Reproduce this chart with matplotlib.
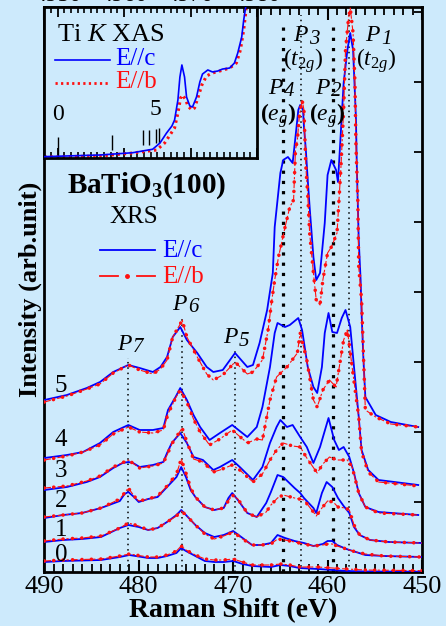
import matplotlib
matplotlib.use('Agg')
import matplotlib.pyplot as plt
from matplotlib.ticker import MultipleLocator

plt.rcParams['font.family'] = ['Liberation Serif', 'DejaVu Serif']
plt.rcParams['mathtext.fontset'] = 'custom'
plt.rcParams['mathtext.rm'] = 'Liberation Serif'
plt.rcParams['mathtext.it'] = 'Liberation Serif:italic'
plt.rcParams['mathtext.bf'] = 'Liberation Serif:bold'

BG = '#cdeafc'
BLUE = '#0000ff'
RED = '#ff1010'

# ---------------- XRS spectra (Raman shift eV, intensity offset) -------------
s0_E = [490, 488, 484, 482, 481, 479, 478, 477, 476, 475.5, 475, 474, 473, 472, 471, 470, 469, 468, 466, 465, 464, 463, 461, 459.5, 458, 456, 450]
s0_c = [0.10, 0.11, 0.12, 0.15, 0.17, 0.14, 0.14, 0.16, 0.19, 0.24, 0.21, 0.16, 0.11, 0.10, 0.10, 0.11, 0.08, 0.06, 0.05, 0.07, 0.06, 0.04, 0.03, 0.02, 0.01, 0.005, 0.003]
s0_b = [0.11, 0.12, 0.13, 0.16, 0.18, 0.15, 0.15, 0.17, 0.21, 0.26, 0.22, 0.17, 0.13, 0.12, 0.12, 0.13, 0.10, 0.07, 0.07, 0.08, 0.07, 0.05, 0.05, 0.04, 0.03, 0.02, 0.013]

s1_E = [490, 488, 486, 484, 482, 481.1, 480, 479, 478, 477, 476, 475.5, 475, 474, 473, 472, 471, 470, 469, 468, 467, 466, 465.3, 464.5, 463.5, 462.5, 461.5, 460.5, 460, 459.5, 459, 458, 457, 456, 454, 450]
s1_c = [0.30, 0.32, 0.33, 0.35, 0.44, 0.47, 0.45, 0.42, 0.44, 0.50, 0.57, 0.62, 0.57, 0.47, 0.39, 0.35, 0.37, 0.41, 0.34, 0.27, 0.27, 0.29, 0.37, 0.34, 0.31, 0.29, 0.26, 0.28, 0.31, 0.31, 0.27, 0.23, 0.20, 0.17, 0.16, 0.15]
s1_b = [0.31, 0.33, 0.34, 0.36, 0.44, 0.49, 0.46, 0.42, 0.44, 0.50, 0.56, 0.61, 0.57, 0.47, 0.38, 0.33, 0.36, 0.40, 0.33, 0.27, 0.27, 0.28, 0.33, 0.32, 0.30, 0.28, 0.26, 0.27, 0.28, 0.28, 0.26, 0.23, 0.20, 0.18, 0.16, 0.15]

s2_Ec = [490, 488, 486, 484, 482, 481.5, 481.1, 480.5, 480, 479, 478, 477, 476, 475.5, 475, 474.5, 474, 473, 472, 471, 470.5, 470.1, 469.5, 468.5, 467.5, 466.5, 466, 465.3, 464.7, 463.5, 462.9, 462.5, 461.5, 461.2, 460.6, 460.1, 459.5, 458.9, 458.3, 457.7, 457.2, 456.6, 455.5, 453.5, 450]
s2_c = [0.54, 0.57, 0.59, 0.64, 0.71, 0.78, 0.80, 0.75, 0.70, 0.73, 0.75, 0.85, 0.95, 1.05, 0.95, 0.82, 0.75, 0.65, 0.62, 0.64, 0.74, 0.79, 0.72, 0.59, 0.55, 0.69, 0.80, 0.97, 0.95, 0.84, 0.79, 0.74, 0.64, 0.59, 0.79, 0.90, 0.85, 0.74, 0.66, 0.59, 0.45, 0.37, 0.32, 0.30, 0.29]
s2_Eb = [490, 488, 486, 484, 482, 481.1, 480.5, 480, 479, 478, 477, 476, 475.5, 475, 474.5, 474, 473, 472, 471, 470.1, 469.5, 468.5, 467.5, 466.5, 466, 465.3, 464.7, 463.5, 462.5, 461.5, 461.2, 460.6, 460, 459.4, 458.9, 458.1, 457.7, 457.2, 456.6, 455.5, 453.5, 450]
s2_b = [0.55, 0.57, 0.59, 0.64, 0.73, 0.84, 0.76, 0.71, 0.73, 0.76, 0.86, 0.98, 1.13, 0.99, 0.84, 0.75, 0.65, 0.62, 0.64, 0.77, 0.73, 0.59, 0.55, 0.60, 0.67, 0.74, 0.77, 0.74, 0.72, 0.60, 0.56, 0.64, 0.71, 0.70, 0.65, 0.64, 0.62, 0.47, 0.37, 0.32, 0.30, 0.29]

s3_Ec = [490, 487.6, 485.5, 484.1, 482.7, 481.7, 481.1, 480.6, 479.9, 478.5, 477.4, 477.0, 476.5, 475.6, 474.9, 474.2, 473.2, 472.1, 471.4, 470.1, 469.3, 467.9, 466.9, 466.1, 465.4, 465.0, 464.3, 463.7, 462.9, 462.2, 461.5, 460.8, 459.9, 459.3, 458.8, 458.3, 457.7, 457.2, 456.7, 456.0, 454.6, 450.4]
s3_c = [0.82, 0.85, 0.90, 0.95, 1.04, 1.09, 1.10, 1.09, 1.05, 1.07, 1.10, 1.19, 1.29, 1.39, 1.29, 1.15, 1.12, 1.02, 1.05, 1.12, 1.05, 0.92, 1.05, 1.29, 1.45, 1.52, 1.45, 1.47, 1.35, 1.25, 1.09, 1.25, 1.54, 1.32, 1.22, 1.25, 1.15, 0.99, 0.79, 0.65, 0.60, 0.57]
s3_Eb = [490, 487.6, 485.5, 484.1, 482.7, 481.1, 479.9, 478.5, 477.4, 477.0, 476.5, 475.4, 474.9, 474.2, 473.2, 472.1, 471.4, 470.1, 469.3, 467.9, 466.9, 466.1, 465.4, 464.7, 463.7, 462.9, 462.2, 461.1, 460.5, 459.8, 459.0, 457.9, 457.4, 456.7, 456.0, 454.6, 450.4]
s3_b = [0.84, 0.86, 0.91, 0.96, 1.05, 1.12, 1.04, 1.06, 1.09, 1.17, 1.28, 1.44, 1.30, 1.13, 1.10, 1.00, 1.02, 1.07, 1.02, 0.90, 0.98, 1.12, 1.22, 1.29, 1.26, 1.25, 1.14, 0.99, 1.08, 1.15, 1.12, 1.12, 1.05, 0.79, 0.65, 0.59, 0.57]

s4_Ec = [490, 487.6, 485.9, 484.1, 482.7, 481.1, 479.9, 478.5, 477.4, 476.9, 476.1, 475.6, 474.9, 474.2, 473.5, 472.5, 471.4, 470.1, 468.5, 467.5, 466.9, 466.1, 465.6, 465.3, 464.5, 464.0, 463.1, 462.7, 462.1, 461.5, 461.1, 460.6, 460.3, 459.9, 459.5, 459.0, 458.5, 458.1, 457.6, 457.2, 456.7, 456.4, 455.7, 454.6, 450.4]
s4_c = [1.14, 1.17, 1.20, 1.29, 1.40, 1.47, 1.42, 1.42, 1.44, 1.62, 1.75, 1.84, 1.72, 1.57, 1.45, 1.32, 1.39, 1.47, 1.35, 1.45, 1.65, 2.05, 2.39, 2.49, 2.45, 2.47, 2.54, 2.42, 2.05, 1.85, 1.79, 2.05, 2.39, 2.59, 2.40, 2.39, 2.54, 2.62, 2.45, 2.05, 1.55, 1.22, 1.02, 0.92, 0.87]
s4_Eb = [490, 487.6, 485.9, 484.1, 482.7, 481.1, 479.9, 478.5, 477.4, 476.9, 476.1, 475.6, 474.9, 474.2, 473.5, 472.5, 471.4, 470.1, 468.5, 467.5, 466.9, 466.1, 465.4, 464.3, 463.2, 462.9, 462.2, 461.5, 461.1, 460.5, 459.8, 459.1, 458.3, 457.9, 457.4, 456.7, 456.4, 455.7, 454.6, 450.4]
s4_b = [1.12, 1.16, 1.20, 1.27, 1.38, 1.45, 1.40, 1.39, 1.42, 1.58, 1.74, 1.82, 1.70, 1.53, 1.40, 1.27, 1.33, 1.42, 1.29, 1.33, 1.32, 1.72, 1.95, 2.05, 2.19, 2.39, 2.12, 1.72, 1.65, 1.82, 1.92, 1.85, 2.32, 2.42, 2.05, 1.55, 1.20, 1.00, 0.90, 0.86]

s5_Ec = [490.0, 487.6, 485.5, 484.1, 482.7, 481.1, 479.9, 478.5, 477.7, 477.0, 476.4, 475.6, 474.9, 473.8, 472.8, 472.1, 471.1, 469.8, 468.5, 467.9, 467.2, 466.4, 465.8, 465.6, 465.0, 464.7, 464.2, 463.7, 463.4, 463.1, 462.9, 462.6, 462.5, 462.3, 462.1, 461.9, 461.5, 461.2, 460.8, 460.3, 460.0, 459.6, 459.1, 458.9, 458.6, 458.3, 457.9, 457.6, 457.3, 457.0, 456.9, 456.7, 456.5, 456.4, 456.2, 456.0, 454.9, 453.3, 450.4]
s5_c = [1.72, 1.77, 1.84, 1.90, 2.00, 2.07, 2.04, 2.00, 2.05, 2.15, 2.35, 2.45, 2.32, 2.19, 2.05, 2.00, 2.02, 2.19, 2.05, 2.07, 2.29, 2.62, 2.99, 3.45, 3.99, 4.12, 4.15, 4.09, 4.35, 4.62, 4.67, 4.62, 4.45, 4.22, 3.92, 3.65, 3.15, 2.92, 2.99, 3.49, 3.97, 4.12, 4.02, 3.90, 4.39, 4.89, 5.22, 5.39, 5.22, 4.55, 4.05, 3.32, 2.92, 2.59, 2.12, 1.75, 1.57, 1.50, 1.45]
s5_Eb = [490.0, 487.6, 485.5, 484.1, 482.7, 481.1, 479.9, 478.5, 477.7, 477.0, 476.4, 475.6, 475.4, 474.9, 473.8, 472.8, 472.1, 471.1, 469.8, 468.5, 467.9, 466.9, 466.3, 465.9, 465.6, 465.2, 464.8, 464.5, 464.0, 463.6, 463.4, 463.2, 463.0, 462.7, 462.5, 462.3, 462.1, 461.9, 461.5, 461.2, 460.8, 460.5, 460.0, 459.6, 459.3, 459.0, 458.6, 458.3, 458.1, 457.8, 457.6, 457.3, 457.1, 457.0, 456.8, 456.7, 456.4, 456.0, 454.9, 453.3, 450.4]
s5_b = [1.70, 1.76, 1.83, 1.88, 1.99, 2.07, 2.02, 1.98, 2.03, 2.12, 2.35, 2.48, 2.52, 2.35, 2.15, 1.98, 1.92, 1.97, 2.10, 1.98, 2.00, 2.12, 2.42, 2.72, 2.92, 3.15, 3.32, 3.45, 3.65, 3.72, 4.22, 4.32, 4.55, 4.72, 4.62, 4.05, 3.77, 3.39, 2.99, 2.72, 2.67, 2.92, 3.19, 3.25, 3.32, 3.39, 4.02, 4.62, 5.22, 5.52, 5.64, 5.39, 4.89, 4.29, 3.72, 3.05, 2.72, 1.62, 1.55, 1.48, 1.45]

spectra_c = [(s0_E, s0_c), (s1_E, s1_c), (s2_Ec, s2_c), (s3_Ec, s3_c), (s4_Ec, s4_c), (s5_Ec, s5_c)]
spectra_b = [(s0_E, s0_b), (s1_E, s1_b), (s2_Eb, s2_b), (s3_Eb, s3_b), (s4_Eb, s4_b), (s5_Eb, s5_b)]
spectrum_names = ['0', '1', '2', '3', '4', '5']

# peak positions (eV)
peak_E = [457.7, 459.4, 462.8, 464.7, 469.8, 475.4, 481.1]
peak_names = ['1', '2', '3', '4', '5', '6', '7']

# ---------------- Ti K-edge XAS (inset) ----------------
xas_Ec = [4948.0, 4956.4, 4961.3, 4964.3, 4965.4, 4966.4, 4967.2, 4967.6, 4968.1, 4968.4, 4968.7, 4969.1, 4969.4, 4969.9, 4970.3, 4970.9, 4971.4, 4971.8, 4972.6, 4973.3, 4974.1, 4974.8, 4975.9, 4976.6, 4977.1, 4977.7, 4978.0, 4978.3, 4978.4]
xas_c = [0.009, 0.020, 0.035, 0.058, 0.099, 0.166, 0.212, 0.252, 0.384, 0.536, 0.616, 0.536, 0.404, 0.344, 0.338, 0.404, 0.503, 0.556, 0.583, 0.570, 0.576, 0.589, 0.596, 0.629, 0.695, 0.801, 0.914, 1.0, 1.05]
xas_Eb = [4948.0, 4956.4, 4961.3, 4964.9, 4966.1, 4966.9, 4967.6, 4968.1, 4968.5, 4968.8, 4969.3, 4969.6, 4970.2, 4970.6, 4971.1, 4971.7, 4972.4, 4973.3, 4974.4, 4975.9, 4976.9, 4977.5, 4978.0, 4978.4, 4978.6]
xas_b = [0.007, 0.013, 0.033, 0.053, 0.099, 0.152, 0.199, 0.298, 0.397, 0.417, 0.384, 0.344, 0.318, 0.331, 0.397, 0.483, 0.543, 0.563, 0.576, 0.596, 0.629, 0.715, 0.848, 1.0, 1.05]
incident_E = [4950.0, 4958.2, 4962.8, 4963.8, 4964.8, 4965.2]
incident_lo = [0.007, 0.053, 0.086, 0.086, 0.10, 0.10]
incident_hi = [0.139, 0.152, 0.185, 0.185, 0.19, 0.20]

W, H = 446, 626
fig = plt.figure(figsize=(W / 100, H / 100), dpi=100)
fig.patch.set_facecolor(BG)


def ftext(x, y, s, **kw):
    return fig.text(x / W, 1 - y / H, s, **kw)


def plabel(x, y, digit):
    # italic P with a large, slightly lowered index
    ftext(x, y, 'P', fontsize=17, style='italic', ha='left', va='baseline')
    ftext(x + 16, y + 2.5, digit, fontsize=15, style='italic', ha='left', va='baseline')


ax = fig.add_axes([44.3 / W, 1 - 572 / H, (422 - 44.3) / W, (572 - 7) / H])
ax.set_facecolor(BG)
ax.set_xlim(490, 450)
ax.set_ylim(0, 5.65)

# dotted guide lines
thick = [False, True, False, True, False, False, False]
tops = [0.985, 0.975, 0.985, 0.975, 2.22 / 5.65, 2.54 / 5.65, 2.14 / 5.65]
for e, t, top in zip(peak_E, thick, tops):
    if t:
        ax.axvline(e, ymax=top, color='black', lw=2.3, linestyle=(0, (1.0, 2.2)), zorder=1)
    else:
        ax.axvline(e, ymax=top, color='black', lw=1.1, linestyle=(0, (1.0, 2.5)), zorder=1)

for (Ec, Ic), (Eb, Ib) in zip(spectra_c, spectra_b):
    ax.plot(Ec, Ic, color=BLUE, lw=1.3, zorder=3)
    ax.plot(Eb, Ib, color=RED, lw=0.8, zorder=4, dashes=(6, 2, 2, 2))
    ax.plot(Eb, Ib, color=RED, lw=2.6, zorder=4, linestyle=(0, (0.01, 2.6)),
            dash_capstyle='round')

ax.xaxis.set_major_locator(MultipleLocator(10))
ax.xaxis.set_minor_locator(MultipleLocator(1))
ax.yaxis.set_major_locator(MultipleLocator(0.7))
ax.tick_params(axis='x', which='both', direction='in', top=True, bottom=True,
               labelsize=19, pad=3)
ax.tick_params(axis='x', which='major', length=9, width=1.5)
ax.tick_params(axis='x', which='minor', length=6, width=1.3)
ax.tick_params(axis='y', which='both', direction='in', left=False, right=True,
               labelleft=False, length=6, width=1.3)
for s in ax.spines.values():
    s.set_linewidth(2)

ax.set_xlabel('Raman Shift (eV)', fontsize=20, fontweight='bold', labelpad=0)
ax.set_ylabel('Intensity (arb.unit)', fontsize=19, fontweight='bold', labelpad=2)

# spectrum numbers
for name, y in zip(spectrum_names, [555, 530, 501, 471, 440, 386]):
    ftext(61, y, name, fontsize=18, ha='center', va='center')

# peak labels (P_n) : left x, baseline y in pixels
plabel_pos = [(365, 41), (315, 94), (293, 41), (268, 94), (223, 343), (172, 310), (117, 350)]
for (px, py), d in zip(plabel_pos, peak_names):
    plabel(px, py, d)
ftext(278, 116, r'($\it{e}_g$)', fontsize=17, ha='center', va='center', fontweight='bold')
ftext(303, 61, '($t_{2g}$)', fontsize=17, ha='center', va='center')
ftext(327, 116, r'($\it{e}_g$)', fontsize=17, ha='center', va='center', fontweight='bold')
ftext(376, 61, '($t_{2g}$)', fontsize=17, ha='center', va='center')

# title and legend
ftext(147, 186, r'BaTiO$_{\mathbf{3}}$(100)', fontsize=21, fontweight='bold', ha='center', va='center')
ftext(134, 217, 'XRS', fontsize=18, ha='center', va='center')
ax.plot([100 / W, 155 / W], [1 - 250 / H] * 2, transform=fig.transFigure, color=BLUE, lw=1.3, clip_on=False)
ax.plot([100 / W, 118 / W], [1 - 276 / H] * 2, transform=fig.transFigure, color=RED, lw=1.3, clip_on=False)
ax.plot([137 / W, 155 / W], [1 - 276 / H] * 2, transform=fig.transFigure, color=RED, lw=1.3, clip_on=False)
ax.plot([127 / W], [1 - 276 / H], transform=fig.transFigure, color=RED, marker='o', ms=2.5, clip_on=False)
ftext(162, 251, 'E//c', fontsize=18, color=BLUE, ha='left', va='center')
ftext(162, 277, 'E//b', fontsize=18, color=RED, ha='left', va='center')

# ---------------- inset ----------------
axin = fig.add_axes([44.3 / W, 1 - 158 / H, (257 - 44.3) / W, (158 - 7) / H])
axin.set_facecolor(BG)
axin.set_xlim(4948, 4980)
axin.set_ylim(0, 1)
axin.plot(xas_Ec, xas_c, color=BLUE, lw=1.2, zorder=3)
axin.plot(xas_Eb, xas_b, color=RED, lw=2.2, linestyle=(0, (0.8, 1.2)), zorder=2)
axin.vlines(incident_E, incident_lo, incident_hi, color='black', lw=1.0)
axin.xaxis.set_major_locator(MultipleLocator(10))
axin.xaxis.set_minor_locator(MultipleLocator(1))
axin.tick_params(axis='x', which='both', direction='in', top=True, bottom=True,
                 labeltop=True, labelbottom=False, labelsize=17, pad=1.0)
axin.tick_params(axis='x', which='major', length=7, width=1.3)
axin.tick_params(axis='x', which='minor', length=4.5, width=1.2)
axin.set_yticks([])
for s in axin.spines.values():
    s.set_linewidth(2)

axin.text(0.06, 0.815, r'Ti $\it{K}$ XAS', transform=axin.transAxes, fontsize=19, ha='left', va='center')
axin.plot([0.05, 0.31], [0.649, 0.649], transform=axin.transAxes, color=BLUE, lw=1.2)
axin.plot([0.05, 0.31], [0.497, 0.497], transform=axin.transAxes, color=RED, lw=2.0, linestyle=(0, (0.8, 1.2)))
axin.text(0.335, 0.655, 'E//c', transform=axin.transAxes, fontsize=18, color=BLUE, ha='left', va='center')
axin.text(0.335, 0.500, 'E//b', transform=axin.transAxes, fontsize=18, color=RED, ha='left', va='center')
axin.text(0.066, 0.285, '0', transform=axin.transAxes, fontsize=17, ha='center', va='center')
axin.text(0.521, 0.318, '5', transform=axin.transAxes, fontsize=17, ha='center', va='center')

fig.savefig('out.png', dpi=100, facecolor=BG)
